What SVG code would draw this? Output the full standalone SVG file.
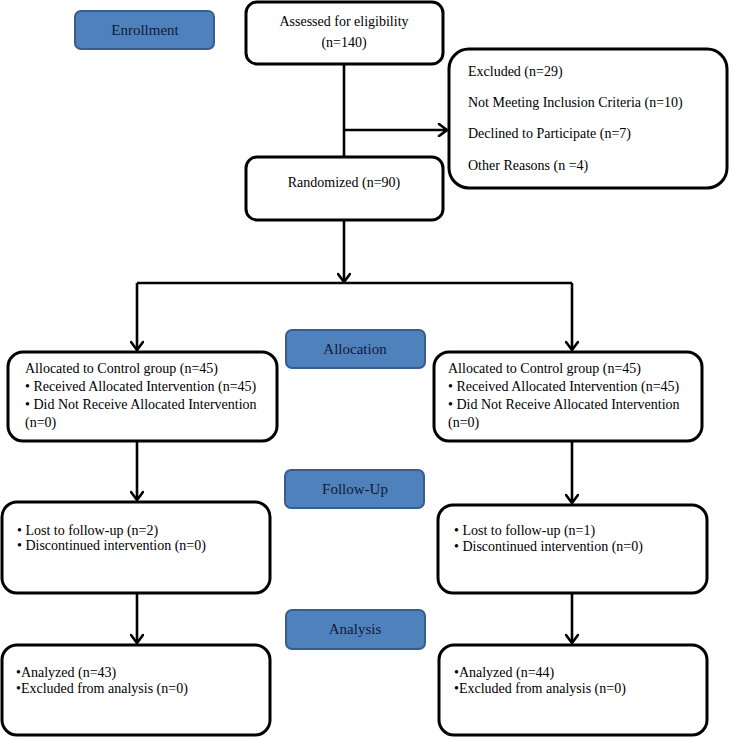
<svg xmlns="http://www.w3.org/2000/svg" width="729" height="737" viewBox="0 0 729 737">
<defs>
<marker id="arr" markerUnits="userSpaceOnUse" markerWidth="14" markerHeight="14" viewBox="-12 -7 14 14" refX="0" refY="0" orient="auto">
<path d="M-8,-6 L0,0 L-8,6" fill="none" stroke="#000" stroke-width="2.6" stroke-linecap="round" stroke-linejoin="miter"/>
</marker>
</defs>
<style>
.box{fill:#fff;stroke:#000;stroke-width:3}
.stage{fill:#4f81bd;stroke:#385d8a;stroke-width:2}
.t{font-family:"Liberation Serif","Times New Roman",serif;font-size:14px;fill:#000}
.st{font-family:"Liberation Serif","Times New Roman",serif;font-size:15px;fill:#0f1b33;text-anchor:middle}
.c{text-anchor:middle}
.ln{fill:none;stroke:#000;stroke-width:2.6}
</style>
<rect width="729" height="737" fill="#fff"/>
<g id="enrollment"><rect class="stage" x="75" y="11" width="139" height="38" rx="6"/><text class="st" x="145" y="35">Enrollment</text></g>
<g id="allocation"><rect class="stage" x="286" y="330" width="139" height="38" rx="6"/><text class="st" x="355" y="354">Allocation</text></g>
<g id="followup"><rect class="stage" x="285" y="470" width="139" height="38" rx="6"/><text class="st" x="355" y="494">Follow-Up</text></g>
<g id="analysis"><rect class="stage" x="286" y="610" width="139" height="39" rx="6"/><text class="st" x="355" y="634">Analysis</text></g>

<g id="assessed"><rect class="box" x="246" y="2" width="197" height="62" rx="11"/><text class="t c" x="344" y="26">Assessed for eligibility</text><text class="t c" x="344" y="47">(n=140)</text></g>
<g id="excluded"><rect class="box" x="449" y="49" width="278" height="139" rx="20"/>
<text class="t" x="468" y="76">Excluded (n=29)</text>
<text class="t" x="468" y="107">Not Meeting Inclusion Criteria (n=10)</text>
<text class="t" x="468" y="138">Declined to Participate (n=7)</text>
<text class="t" x="468" y="170">Other Reasons (n =4)</text></g>
<g id="randomized"><rect class="box" x="246" y="157" width="197" height="63" rx="11"/><text class="t c" x="344" y="187">Randomized (n=90)</text></g>

<g id="alloc-left"><rect class="box" x="8" y="352" width="269" height="89" rx="15"/>
<text class="t" x="25" y="373">Allocated to Control group (n=45)</text>
<text class="t" x="25" y="391">• Received Allocated Intervention (n=45)</text>
<text class="t" x="25" y="409">• Did Not Receive Allocated Intervention</text>
<text class="t" x="25" y="427">(n=0)</text></g>
<g id="alloc-right"><rect class="box" x="434" y="352" width="268" height="89" rx="15"/>
<text class="t" x="448" y="373">Allocated to Control group (n=45)</text>
<text class="t" x="448" y="391">• Received Allocated Intervention (n=45)</text>
<text class="t" x="448" y="409">• Did Not Receive Allocated Intervention</text>
<text class="t" x="448" y="427">(n=0)</text></g>

<g id="follow-left"><rect class="box" x="2" y="502" width="268" height="91" rx="15"/>
<text class="t" x="17" y="535">• Lost to follow-up (n=2)</text>
<text class="t" x="17" y="550">• Discontinued intervention (n=0)</text></g>
<g id="follow-right"><rect class="box" x="438" y="505" width="269" height="88" rx="15"/>
<text class="t" x="454" y="535">• Lost to follow-up (n=1)</text>
<text class="t" x="454" y="551">• Discontinued intervention (n=0)</text></g>

<g id="analysis-left"><rect class="box" x="2" y="645" width="268" height="90" rx="15"/>
<text class="t" x="16" y="677">•Analyzed (n=43)</text>
<text class="t" x="16" y="693">•Excluded from analysis (n=0)</text></g>
<g id="analysis-right"><rect class="box" x="439" y="645" width="268" height="90" rx="15"/>
<text class="t" x="454" y="677">•Analyzed (n=44)</text>
<text class="t" x="454" y="693">•Excluded from analysis (n=0)</text></g>

<g id="connectors">
<path class="ln" d="M344,64 V157"/>
<path class="ln" d="M344,130 H447" marker-end="url(#arr)"/>
<path class="ln" d="M344,220 V282" marker-end="url(#arr)"/>
<path class="ln" d="M137,283 H572"/>
<path class="ln" d="M137,283 V350" marker-end="url(#arr)"/>
<path class="ln" d="M572,283 V350" marker-end="url(#arr)"/>
<path class="ln" d="M137,441 V500" marker-end="url(#arr)"/>
<path class="ln" d="M572,441 V503" marker-end="url(#arr)"/>
<path class="ln" d="M137,593 V643" marker-end="url(#arr)"/>
<path class="ln" d="M572,593 V643" marker-end="url(#arr)"/>
</g>
</svg>
